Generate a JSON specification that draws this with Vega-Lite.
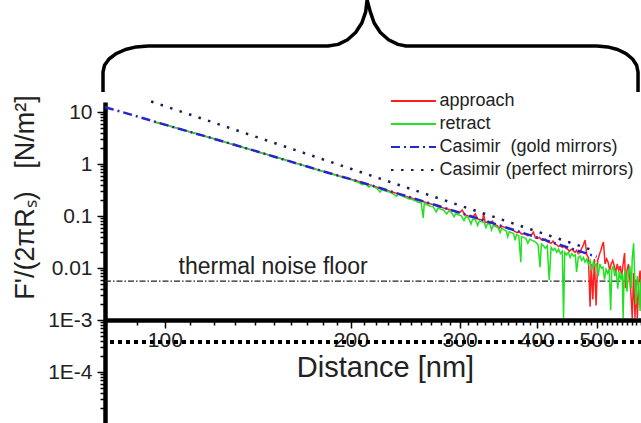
{
"$schema": "https://vega.github.io/schema/vega-lite/v6.json",
"width": 536, "height": 321,
"autosize": {"type": "none"},
"padding": {"left": 105, "top": 102, "right": 0, "bottom": 0},
"background": "white",
"config": {"view": {"stroke": null}},
"datasets": {
"brace": [
{"i":1,"d":79.41,"F":24.29},{"i":2,"d":79.41,"F":58.9},{"i":3,"d":79.85,"F":79.22},{"i":4,"d":81.21,"F":104.7},{"i":5,"d":83.4,"F":133.0},{"i":6,"d":86.34,"F":159.5},{"i":7,"d":89.86,"F":178.9},{"i":8,"d":93.95,"F":186.2},{"i":9,"d":183.7,"F":186.2},{"i":10,"d":190.8,"F":199.9},{"i":11,"d":197.6,"F":245.1},{"i":12,"d":203.6,"F":338.6},{"i":13,"d":208.4,"F":515.6},{"i":14,"d":211.4,"F":843.0},{"i":15,"d":212.5,"F":1427.7},{"i":16,"d":215.1,"F":843.0},{"i":17,"d":218.2,"F":515.6},{"i":18,"d":223.3,"F":338.6},{"i":19,"d":230.2,"F":245.1},{"i":20,"d":238.4,"F":199.9},{"i":21,"d":245.7,"F":186.2},{"i":22,"d":500.8,"F":186.2},{"i":23,"d":521.0,"F":178.9},{"i":24,"d":540.6,"F":159.5},{"i":25,"d":558.0,"F":133.0},{"i":26,"d":571.7,"F":104.7},{"i":27,"d":580.5,"F":79.22},{"i":28,"d":583.5,"F":58.9},{"i":29,"d":583.5,"F":24.29}
],
"floor": [{"d":80,"F":0.00563},{"d":590,"F":0.00563}],
"dotrule": [{"d":81.5,"F":0.000378},{"d":590,"F":0.000378}],
"label": [{"d":149.7,"F":0.01047,"text":"thermal noise floor"}],
"meas": [
{"series":"approach","d":96,"F":6.5},{"series":"approach","d":100,"F":5.75},{"series":"approach","d":104,"F":5.02},{"series":"approach","d":108,"F":4.38},{"series":"approach","d":112,"F":3.9},{"series":"approach","d":116,"F":3.44},{"series":"approach","d":120,"F":3.08},{"series":"approach","d":124,"F":2.74},{"series":"approach","d":128,"F":2.43},{"series":"approach","d":132,"F":2.2},{"series":"approach","d":136,"F":1.98},{"series":"approach","d":140,"F":1.79},{"series":"approach","d":144,"F":1.62},{"series":"approach","d":148,"F":1.47},{"series":"approach","d":152,"F":1.34},{"series":"approach","d":156,"F":1.225},{"series":"approach","d":160,"F":1.11},{"series":"approach","d":164,"F":1.02},{"series":"approach","d":168,"F":0.935},{"series":"approach","d":172,"F":0.86},{"series":"approach","d":176,"F":0.79},{"series":"approach","d":180,"F":0.73},{"series":"approach","d":184,"F":0.678},{"series":"approach","d":188,"F":0.63},{"series":"approach","d":192,"F":0.585},{"series":"approach","d":196,"F":0.548},{"series":"approach","d":200,"F":0.512},
{"series":"approach","d":204,"F":0.48},{"series":"approach","d":208,"F":0.445},{"series":"approach","d":212,"F":0.415},{"series":"approach","d":216,"F":0.39},{"series":"approach","d":220,"F":0.362},{"series":"approach","d":224,"F":0.335},{"series":"approach","d":228,"F":0.318},{"series":"approach","d":232,"F":0.296},{"series":"approach","d":236,"F":0.278},{"series":"approach","d":240,"F":0.262},{"series":"approach","d":244,"F":0.245},{"series":"approach","d":248,"F":0.232},{"series":"approach","d":252,"F":0.218},{"series":"approach","d":256,"F":0.206},{"series":"approach","d":260,"F":0.195},{"series":"approach","d":264,"F":0.184},{"series":"approach","d":268,"F":0.174},{"series":"approach","d":272,"F":0.165},{"series":"approach","d":276,"F":0.156},{"series":"approach","d":280,"F":0.148},{"series":"approach","d":284,"F":0.14},{"series":"approach","d":288,"F":0.135},{"series":"approach","d":292,"F":0.128},{"series":"approach","d":296,"F":0.12},{"series":"approach","d":300,"F":0.116},
{"series":"approach","d":303,"F":0.13},{"series":"approach","d":306,"F":0.106},{"series":"approach","d":309,"F":0.102},{"series":"approach","d":312,"F":0.097},{"series":"approach","d":315,"F":0.095},{"series":"approach","d":318,"F":0.11},{"series":"approach","d":321,"F":0.088},{"series":"approach","d":324,"F":0.086},{"series":"approach","d":327,"F":0.082},{"series":"approach","d":328,"F":0.114},{"series":"approach","d":330,"F":0.075},{"series":"approach","d":333,"F":0.077},{"series":"approach","d":336,"F":0.074},{"series":"approach","d":339,"F":0.08},{"series":"approach","d":342,"F":0.068},{"series":"approach","d":345,"F":0.066},{"series":"approach","d":348,"F":0.058},{"series":"approach","d":351,"F":0.064},{"series":"approach","d":354,"F":0.061},{"series":"approach","d":357,"F":0.06},{"series":"approach","d":360,"F":0.057},{"series":"approach","d":363,"F":0.056},{"series":"approach","d":366,"F":0.054},{"series":"approach","d":369,"F":0.05},{"series":"approach","d":372,"F":0.048},{"series":"approach","d":375,"F":0.05},{"series":"approach","d":378,"F":0.045},{"series":"approach","d":381,"F":0.046},{"series":"approach","d":384,"F":0.044},{"series":"approach","d":387,"F":0.042},{"series":"approach","d":390,"F":0.043},{"series":"approach","d":393,"F":0.045},{"series":"approach","d":395,"F":0.049},{"series":"approach","d":398,"F":0.038},{"series":"approach","d":401,"F":0.037},{"series":"approach","d":404,"F":0.039},{"series":"approach","d":407,"F":0.035},{"series":"approach","d":410,"F":0.034},{"series":"approach","d":413,"F":0.036},{"series":"approach","d":416,"F":0.032},{"series":"approach","d":419,"F":0.031},{"series":"approach","d":422,"F":0.03},{"series":"approach","d":425,"F":0.033},{"series":"approach","d":428,"F":0.029},{"series":"approach","d":431,"F":0.028},{"series":"approach","d":434,"F":0.026},{"series":"approach","d":437,"F":0.027},{"series":"approach","d":440,"F":0.025},{"series":"approach","d":443,"F":0.027},{"series":"approach","d":446,"F":0.024},{"series":"approach","d":449,"F":0.023},{"series":"approach","d":452,"F":0.021},{"series":"approach","d":455,"F":0.023},{"series":"approach","d":458,"F":0.022},{"series":"approach","d":461,"F":0.02},{"series":"approach","d":464,"F":0.022},{"series":"approach","d":467,"F":0.019},{"series":"approach","d":470,"F":0.02},{"series":"approach","d":473,"F":0.024},{"series":"approach","d":476,"F":0.028},{"series":"approach","d":479,"F":0.0347},{"series":"approach","d":482,"F":0.018},{"series":"approach","d":485,"F":0.016},{"series":"approach","d":488,"F":0.0018},{"series":"approach","d":490,"F":0.012},{"series":"approach","d":493,"F":0.0025},{"series":"approach","d":496,"F":0.015},{"series":"approach","d":499,"F":0.0019},{"series":"approach","d":502,"F":0.014},{"series":"approach","d":505,"F":0.018},{"series":"approach","d":508,"F":0.022},{"series":"approach","d":511,"F":0.028},{"series":"approach","d":513,"F":0.0316},{"series":"approach","d":516,"F":0.012},{"series":"approach","d":519,"F":0.015},{"series":"approach","d":522,"F":0.013},{"series":"approach","d":525,"F":0.009},{"series":"approach","d":528,"F":0.012},{"series":"approach","d":531,"F":0.014},{"series":"approach","d":534,"F":0.011},{"series":"approach","d":537,"F":0.008},{"series":"approach","d":540,"F":0.012},{"series":"approach","d":543,"F":0.009},{"series":"approach","d":546,"F":0.011},{"series":"approach","d":549,"F":0.007},{"series":"approach","d":552,"F":0.012},{"series":"approach","d":555,"F":0.0195},{"series":"approach","d":557,"F":0.0041},{"series":"approach","d":560,"F":0.009},{"series":"approach","d":563,"F":0.012},{"series":"approach","d":566,"F":0.006},{"series":"approach","d":569,"F":0.0025},{"series":"approach","d":571,"F":0.0011},{"series":"approach","d":574,"F":0.008},{"series":"approach","d":577,"F":0.0011},{"series":"approach","d":579,"F":0.006},{"series":"approach","d":582,"F":0.0011},{"series":"approach","d":585,"F":0.005},{"series":"approach","d":588,"F":0.009},{"series":"approach","d":590,"F":0.004},
{"series":"retract","d":96,"F":6.4},{"series":"retract","d":100,"F":5.7},{"series":"retract","d":104,"F":4.98},{"series":"retract","d":108,"F":4.4},{"series":"retract","d":112,"F":3.87},{"series":"retract","d":116,"F":3.45},{"series":"retract","d":120,"F":3.06},{"series":"retract","d":124,"F":2.73},{"series":"retract","d":128,"F":2.44},{"series":"retract","d":132,"F":2.19},{"series":"retract","d":136,"F":1.97},{"series":"retract","d":140,"F":1.78},{"series":"retract","d":144,"F":1.61},{"series":"retract","d":148,"F":1.46},{"series":"retract","d":152,"F":1.335},{"series":"retract","d":156,"F":1.215},{"series":"retract","d":160,"F":1.105},{"series":"retract","d":164,"F":1.01},{"series":"retract","d":168,"F":0.93},{"series":"retract","d":172,"F":0.855},{"series":"retract","d":176,"F":0.785},{"series":"retract","d":180,"F":0.725},{"series":"retract","d":184,"F":0.672},{"series":"retract","d":188,"F":0.625},{"series":"retract","d":192,"F":0.58},{"series":"retract","d":196,"F":0.542},{"series":"retract","d":200,"F":0.505},
{"series":"retract","d":203,"F":0.47},{"series":"retract","d":206,"F":0.44},{"series":"retract","d":209,"F":0.4},{"series":"retract","d":211,"F":0.42},{"series":"retract","d":214,"F":0.36},{"series":"retract","d":216,"F":0.39},{"series":"retract","d":219,"F":0.355},{"series":"retract","d":221,"F":0.33},{"series":"retract","d":223,"F":0.29},{"series":"retract","d":225,"F":0.325},{"series":"retract","d":228,"F":0.3},{"series":"retract","d":231,"F":0.29},{"series":"retract","d":234,"F":0.27},{"series":"retract","d":237,"F":0.24},{"series":"retract","d":239,"F":0.262},{"series":"retract","d":242,"F":0.245},{"series":"retract","d":245,"F":0.23},{"series":"retract","d":248,"F":0.215},{"series":"retract","d":251,"F":0.21},{"series":"retract","d":254,"F":0.198},{"series":"retract","d":257,"F":0.185},{"series":"retract","d":260,"F":0.18},{"series":"retract","d":262,"F":0.092},{"series":"retract","d":263,"F":0.175},{"series":"retract","d":266,"F":0.165},{"series":"retract","d":269,"F":0.155},{"series":"retract","d":272,"F":0.15},{"series":"retract","d":275,"F":0.12},{"series":"retract","d":277,"F":0.145},{"series":"retract","d":280,"F":0.135},{"series":"retract","d":283,"F":0.128},{"series":"retract","d":286,"F":0.11},{"series":"retract","d":288,"F":0.125},{"series":"retract","d":291,"F":0.118},{"series":"retract","d":294,"F":0.097},{"series":"retract","d":296,"F":0.112},{"series":"retract","d":299,"F":0.105},{"series":"retract","d":302,"F":0.101},{"series":"retract","d":305,"F":0.082},{"series":"retract","d":307,"F":0.098},{"series":"retract","d":310,"F":0.093},{"series":"retract","d":313,"F":0.07},{"series":"retract","d":315,"F":0.088},{"series":"retract","d":318,"F":0.085},{"series":"retract","d":321,"F":0.066},{"series":"retract","d":323,"F":0.081},{"series":"retract","d":326,"F":0.078},{"series":"retract","d":329,"F":0.074},{"series":"retract","d":331,"F":0.06},{"series":"retract","d":333,"F":0.072},{"series":"retract","d":336,"F":0.069},{"series":"retract","d":338,"F":0.054},{"series":"retract","d":340,"F":0.066},{"series":"retract","d":343,"F":0.063},{"series":"retract","d":346,"F":0.06},{"series":"retract","d":349,"F":0.048},{"series":"retract","d":351,"F":0.058},{"series":"retract","d":354,"F":0.055},{"series":"retract","d":357,"F":0.052},{"series":"retract","d":359,"F":0.04},{"series":"retract","d":361,"F":0.05},{"series":"retract","d":364,"F":0.048},{"series":"retract","d":367,"F":0.046},{"series":"retract","d":369,"F":0.034},{"series":"retract","d":371,"F":0.044},{"series":"retract","d":374,"F":0.042},{"series":"retract","d":377,"F":0.013},{"series":"retract","d":378,"F":0.04},{"series":"retract","d":381,"F":0.039},{"series":"retract","d":384,"F":0.037},{"series":"retract","d":387,"F":0.03},{"series":"retract","d":390,"F":0.036},{"series":"retract","d":393,"F":0.034},{"series":"retract","d":396,"F":0.033},{"series":"retract","d":399,"F":0.031},{"series":"retract","d":402,"F":0.028},{"series":"retract","d":405,"F":0.0104},{"series":"retract","d":407,"F":0.029},{"series":"retract","d":410,"F":0.027},{"series":"retract","d":413,"F":0.024},{"series":"retract","d":416,"F":0.027},{"series":"retract","d":419,"F":0.0059},{"series":"retract","d":422,"F":0.025},{"series":"retract","d":425,"F":0.022},{"series":"retract","d":428,"F":0.024},{"series":"retract","d":431,"F":0.02},{"series":"retract","d":434,"F":0.023},{"series":"retract","d":437,"F":0.019},{"series":"retract","d":440,"F":0.021},{"series":"retract","d":442,"F":0.0011},{"series":"retract","d":444,"F":0.02},{"series":"retract","d":447,"F":0.018},{"series":"retract","d":450,"F":0.02},{"series":"retract","d":453,"F":0.016},{"series":"retract","d":456,"F":0.019},{"series":"retract","d":459,"F":0.017},{"series":"retract","d":462,"F":0.018},{"series":"retract","d":464,"F":0.0084},{"series":"retract","d":467,"F":0.016},{"series":"retract","d":470,"F":0.017},{"series":"retract","d":473,"F":0.014},{"series":"retract","d":476,"F":0.016},{"series":"retract","d":479,"F":0.013},{"series":"retract","d":482,"F":0.015},{"series":"retract","d":485,"F":0.012},{"series":"retract","d":488,"F":0.014},{"series":"retract","d":491,"F":0.009},{"series":"retract","d":494,"F":0.013},{"series":"retract","d":497,"F":0.011},{"series":"retract","d":500,"F":0.012},{"series":"retract","d":503,"F":0.007},{"series":"retract","d":506,"F":0.012},{"series":"retract","d":509,"F":0.01},{"series":"retract","d":512,"F":0.0105},{"series":"retract","d":515,"F":0.006},{"series":"retract","d":518,"F":0.0095},{"series":"retract","d":521,"F":0.008},{"series":"retract","d":524,"F":0.0095},{"series":"retract","d":527,"F":0.00155},{"series":"retract","d":529,"F":0.009},{"series":"retract","d":532,"F":0.011},{"series":"retract","d":535,"F":0.007},{"series":"retract","d":538,"F":0.009},{"series":"retract","d":541,"F":0.004},{"series":"retract","d":544,"F":0.0085},{"series":"retract","d":547,"F":0.006},{"series":"retract","d":550,"F":0.008},{"series":"retract","d":552,"F":0.0011},{"series":"retract","d":554,"F":0.007},{"series":"retract","d":557,"F":0.009},{"series":"retract","d":560,"F":0.0035},{"series":"retract","d":563,"F":0.008},{"series":"retract","d":566,"F":0.011},{"series":"retract","d":569,"F":0.004},{"series":"retract","d":571,"F":0.015},{"series":"retract","d":574,"F":0.03},{"series":"retract","d":576,"F":0.008},{"series":"retract","d":579,"F":0.002},{"series":"retract","d":582,"F":0.007},{"series":"retract","d":585,"F":0.0045},{"series":"retract","d":588,"F":0.0015},{"series":"retract","d":590,"F":0.006}
],
"theory": [
{"series":"Casimir\u00a0 (gold mirrors)","d":80,"F":12.4},{"series":"Casimir\u00a0 (gold mirrors)","d":85,"F":10.1},{"series":"Casimir\u00a0 (gold mirrors)","d":90,"F":8.3},{"series":"Casimir\u00a0 (gold mirrors)","d":95,"F":6.86},{"series":"Casimir\u00a0 (gold mirrors)","d":100,"F":5.72},{"series":"Casimir\u00a0 (gold mirrors)","d":110,"F":4.13},{"series":"Casimir\u00a0 (gold mirrors)","d":120,"F":3.07},{"series":"Casimir\u00a0 (gold mirrors)","d":130,"F":2.32},{"series":"Casimir\u00a0 (gold mirrors)","d":140,"F":1.79},{"series":"Casimir\u00a0 (gold mirrors)","d":150,"F":1.4},{"series":"Casimir\u00a0 (gold mirrors)","d":160,"F":1.111},{"series":"Casimir\u00a0 (gold mirrors)","d":170,"F":0.895},{"series":"Casimir\u00a0 (gold mirrors)","d":180,"F":0.731},{"series":"Casimir\u00a0 (gold mirrors)","d":190,"F":0.608},{"series":"Casimir\u00a0 (gold mirrors)","d":200,"F":0.512},{"series":"Casimir\u00a0 (gold mirrors)","d":220,"F":0.3635},{"series":"Casimir\u00a0 (gold mirrors)","d":240,"F":0.2645},{"series":"Casimir\u00a0 (gold mirrors)","d":260,"F":0.1977},{"series":"Casimir\u00a0 (gold mirrors)","d":280,"F":0.1508},{"series":"Casimir\u00a0 (gold mirrors)","d":300,"F":0.1164},{"series":"Casimir\u00a0 (gold mirrors)","d":320,"F":0.0911},{"series":"Casimir\u00a0 (gold mirrors)","d":340,"F":0.0725},{"series":"Casimir\u00a0 (gold mirrors)","d":360,"F":0.0582},{"series":"Casimir\u00a0 (gold mirrors)","d":380,"F":0.0473},{"series":"Casimir\u00a0 (gold mirrors)","d":400,"F":0.039},{"series":"Casimir\u00a0 (gold mirrors)","d":420,"F":0.0323},{"series":"Casimir\u00a0 (gold mirrors)","d":440,"F":0.027},{"series":"Casimir\u00a0 (gold mirrors)","d":460,"F":0.0228},{"series":"Casimir\u00a0 (gold mirrors)","d":480,"F":0.01935},{"series":"Casimir\u00a0 (gold mirrors)","d":500,"F":0.01654},
{"series":"Casimir (perfect mirrors)","d":95,"F":15.96},{"series":"Casimir (perfect mirrors)","d":100,"F":13},{"series":"Casimir (perfect mirrors)","d":110,"F":8.879},{"series":"Casimir (perfect mirrors)","d":120,"F":6.269},{"series":"Casimir (perfect mirrors)","d":130,"F":4.552},{"series":"Casimir (perfect mirrors)","d":140,"F":3.384},{"series":"Casimir (perfect mirrors)","d":150,"F":2.568},{"series":"Casimir (perfect mirrors)","d":160,"F":1.984},{"series":"Casimir (perfect mirrors)","d":170,"F":1.5565},{"series":"Casimir (perfect mirrors)","d":180,"F":1.2384},{"series":"Casimir (perfect mirrors)","d":190,"F":0.9975},{"series":"Casimir (perfect mirrors)","d":200,"F":0.8125},{"series":"Casimir (perfect mirrors)","d":220,"F":0.555},{"series":"Casimir (perfect mirrors)","d":240,"F":0.3918},{"series":"Casimir (perfect mirrors)","d":260,"F":0.2845},{"series":"Casimir (perfect mirrors)","d":280,"F":0.2115},{"series":"Casimir (perfect mirrors)","d":300,"F":0.1605},{"series":"Casimir (perfect mirrors)","d":320,"F":0.124},{"series":"Casimir (perfect mirrors)","d":340,"F":0.0973},{"series":"Casimir (perfect mirrors)","d":360,"F":0.0774},{"series":"Casimir (perfect mirrors)","d":380,"F":0.0623},{"series":"Casimir (perfect mirrors)","d":400,"F":0.0508},{"series":"Casimir (perfect mirrors)","d":420,"F":0.04178},{"series":"Casimir (perfect mirrors)","d":440,"F":0.03469},{"series":"Casimir (perfect mirrors)","d":460,"F":0.02904},{"series":"Casimir (perfect mirrors)","d":480,"F":0.02449},{"series":"Casimir (perfect mirrors)","d":500,"F":0.0208}
]
},
"encoding": {
"x": {"field": "d", "type": "quantitative",
 "scale": {"type": "log", "domain": [80, 590], "nice": false},
 "axis": {"orient": "bottom", "offset": -103, "grid": false,
  "values": [80,90,100,110,120,130,140,150,160,170,180,190,200,210,220,230,240,250,260,270,280,290,300,310,320,330,340,350,360,370,380,390,400,410,420,430,440,450,460,470,480,490,500,510,520,530,540,550,560,570,580,590],
  "labelExpr": "datum.value % 100 == 0 ? '' + datum.value : ''",
  "tickSize": {"condition": {"test": "datum.value % 100 == 0", "value": 8}, "value": 5},
  "tickWidth": 1.5, "tickColor": "black",
  "domainWidth": 4.5, "domainColor": "black",
  "labelFont": "Liberation Sans", "labelFontSize": 21, "labelColor": "#222",
  "labelBaseline": "middle", "labelPadding": 12, "labelOverlap": false, "labelFlush": false, "labelBound": false,
  "title": "Distance [nm]", "titleFont": "Liberation Sans", "titleFontSize": 29, "titleFontWeight": "normal", "titleColor": "#222",
  "titleX": 280, "titleY": 47, "titleAlign": "center", "titleBaseline": "middle"}},
"y": {"field": "F", "type": "quantitative",
 "scale": {"type": "log", "domain": [0.0000105, 15.6], "nice": false},
 "axis": {"orient": "left", "grid": false,
  "values": [0.00002,0.00003,0.00004,0.00005,0.00006,0.00007,0.00008,0.00009,0.0001,0.0002,0.0003,0.0004,0.0005,0.0006,0.0007,0.0008,0.0009,0.001,0.002,0.003,0.004,0.005,0.006,0.007,0.008,0.009,0.01,0.02,0.03,0.04,0.05,0.06,0.07,0.08,0.09,0.1,0.2,0.3,0.4,0.5,0.6,0.7,0.8,0.9,1,2,3,4,5,6,7,8,9,10],
  "labelExpr": "abs(log(datum.value)/LN10 - round(log(datum.value)/LN10)) < 0.001 ? (datum.value < 0.005 ? '1E' + round(log(datum.value)/LN10) : '' + datum.value) : ''",
  "tickSize": {"condition": {"test": "abs(log(datum.value)/LN10 - round(log(datum.value)/LN10)) < 0.001", "value": 8}, "value": 5},
  "tickWidth": 1.5, "tickColor": "black",
  "domainWidth": 4.5, "domainColor": "black",
  "labelFont": "Liberation Sans", "labelFontSize": 21, "labelColor": "#222",
  "labelPadding": 5, "labelOverlap": false, "labelFlush": false, "labelBound": false,
  "title": "F'/(2πRₛ)\u00a0\u00a0 [N/m²]", "titleFont": "Liberation Sans", "titleFontSize": 27, "titleFontWeight": "normal", "titleColor": "#222",
  "titleX": -80, "titleY": 95, "titleAngle": -90, "titleAlign": "center", "titleBaseline": "middle"}}
},
"layer": [
{"data": {"name": "brace"}, "mark": {"type": "line", "color": "black", "strokeWidth": 3.5, "clip": false, "strokeJoin": "round", "strokeCap": "butt"},
 "encoding": {"order": {"field": "i", "type": "quantitative"}}},
{"data": {"name": "floor"}, "mark": {"type": "line", "color": "#222", "strokeWidth": 1.2, "strokeDash": [6, 2, 1.5, 2]}},
{"data": {"name": "dotrule"}, "mark": {"type": "line", "color": "black", "strokeWidth": 4, "strokeDash": [4, 4]}},
{"data": {"name": "label"}, "mark": {"type": "text", "font": "Liberation Sans", "fontSize": 23, "color": "#222", "align": "center", "baseline": "middle"},
 "encoding": {"text": {"field": "text"}}},
{"data": {"name": "meas"}, "mark": {"type": "line", "strokeWidth": 1.5},
 "encoding": {
  "color": {"field": "series", "type": "nominal",
   "scale": {"domain": ["approach", "retract", "Casimir\u00a0 (gold mirrors)", "Casimir (perfect mirrors)"], "range": ["#ff1f1f", "#22e022", "#2626cc", "#1a1a60"]},
   "legend": {"orient": "none", "legendX": 299.5, "legendY": -10, "title": null, "padding": 0, "symbolType": "M-4.5,0H4.5", "symbolSize": 100, "symbolStrokeWidth": 2, "labelFont": "Liberation Sans", "labelFontSize": 18, "labelColor": "#222", "labelOffset": 17, "labelLimit": 400, "rowPadding": 5}},
  "strokeDash": {"field": "series", "type": "nominal",
   "scale": {"domain": ["approach", "retract", "Casimir\u00a0 (gold mirrors)", "Casimir (perfect mirrors)"], "range": [[1, 0], [1, 0], [9, 4, 2, 4], [2.5, 7.5]]},
   "legend": {"orient": "none", "legendX": 299.5, "legendY": -10, "title": null, "padding": 0, "symbolType": "M-4.5,0H4.5", "symbolSize": 100, "symbolStrokeWidth": 2, "labelFont": "Liberation Sans", "labelFontSize": 18, "labelColor": "#222", "labelOffset": 17, "labelLimit": 400, "rowPadding": 5}}
 }},
{"data": {"name": "theory"}, "mark": {"type": "line", "strokeWidth": 2.5},
 "encoding": {
  "color": {"field": "series", "type": "nominal",
   "scale": {"domain": ["approach", "retract", "Casimir\u00a0 (gold mirrors)", "Casimir (perfect mirrors)"], "range": ["#ff1f1f", "#22e022", "#2626cc", "#1a1a60"]},
   "legend": {"orient": "none", "legendX": 299.5, "legendY": -10, "title": null, "padding": 0, "symbolType": "M-4.5,0H4.5", "symbolSize": 100, "symbolStrokeWidth": 2, "labelFont": "Liberation Sans", "labelFontSize": 18, "labelColor": "#222", "labelOffset": 17, "labelLimit": 400, "rowPadding": 5}},
  "strokeDash": {"field": "series", "type": "nominal",
   "scale": {"domain": ["approach", "retract", "Casimir\u00a0 (gold mirrors)", "Casimir (perfect mirrors)"], "range": [[1, 0], [1, 0], [9, 4, 2, 4], [2.5, 7.5]]},
   "legend": {"orient": "none", "legendX": 299.5, "legendY": -10, "title": null, "padding": 0, "symbolType": "M-4.5,0H4.5", "symbolSize": 100, "symbolStrokeWidth": 2, "labelFont": "Liberation Sans", "labelFontSize": 18, "labelColor": "#222", "labelOffset": 17, "labelLimit": 400, "rowPadding": 5}}
 }}
]
}
